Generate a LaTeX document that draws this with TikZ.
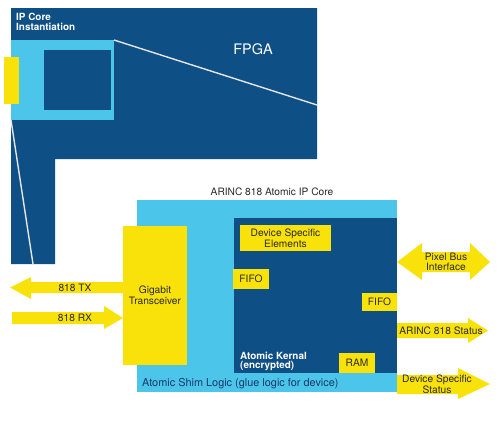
\documentclass[tikz,border=0pt]{standalone}
\usepackage{fontspec}
\setmainfont{TeX Gyre Heros}
\definecolor{fpgablue}{HTML}{0E4F86}
\definecolor{lightblue}{HTML}{4CC5EB}
\definecolor{yel}{HTML}{F9E20A}
\definecolor{txt}{HTML}{2A2A2A}
\definecolor{shimtxt}{HTML}{163A66}
\definecolor{linecol}{HTML}{E6E6E6}
\tikzset{
  box/.style={anchor=north west, inner sep=0pt, outer sep=0pt, draw=none},
  lbl/.style={inner sep=0pt, align=center, text=txt, font=\fontsize{10.2}{9.6}\selectfont},
  wlbl/.style={inner sep=0pt, align=left, text=white, font=\fontsize{9.9}{9.6}\selectfont\bfseries},
  blockarrow/.style={fill=yel, draw=none},
  zoomline/.style={draw=linecol, line width=1.4pt}
}
\begin{document}
\begin{tikzpicture}[x=1pt,y=-1pt]
\useasboundingbox[fill=white] (0,0) rectangle (500,429);
% FPGA L-shape
\fill[fpgablue] (11,8) -- (317,8) -- (317,159) -- (55,159) -- (55,264) -- (11,264) -- cycle;
\node[box, fill=lightblue, minimum width=103pt, minimum height=80pt] (ipinst) at (11,40) {};
\node[box, fill=fpgablue, minimum width=67pt, minimum height=60pt] (ipinner) at (44,50) {};
\node[box, fill=yel, minimum width=15pt, minimum height=47pt] (ipport) at (4,57) {};
\node[wlbl, anchor=north west] (iplabel) at (16,13) {IP Core\\Instantiation};
\node[inner sep=0pt, text=white, font=\fontsize{14.5}{14}\selectfont] (fpgalabel) at (253,49) {FPGA};
\coordinate (zr) at (317,105);
\coordinate (zb) at (33,264);
\draw[zoomline] (ipinst.north east) -- (zr);
\draw[zoomline] (ipinst.south west) -- (zb);

% ARINC core
\node[lbl, anchor=base] (corelabel) at (272,195) {ARINC 818 Atomic IP Core};
\node[box, fill=lightblue, minimum width=260pt, minimum height=192pt] (shim) at (137,200) {};
\node[box, fill=fpgablue, minimum width=163pt, minimum height=155pt] (kernel) at (234,218) {};
\node[box, fill=yel, minimum width=64pt, minimum height=139pt] (gt) at (123,226) {};
\node[lbl] at (gt.center) {Gigabit\\Transceiver};
\node[box, fill=yel, minimum width=91pt, minimum height=26pt] (dse) at (240,225) {};
\node[lbl] at (dse.center) {Device Specific\\Elements};
\node[box, fill=yel, minimum width=36pt, minimum height=20pt] (fifo1) at (233,269) {};
\node[lbl] at (fifo1.center) {FIFO};
\node[box, fill=yel, minimum width=35pt, minimum height=18pt] (fifo2) at (362,293) {};
\node[lbl] at (fifo2.center) {FIFO};
\node[box, fill=yel, minimum width=36pt, minimum height=20pt] (ram) at (339,353) {};
\node[lbl] at (ram.center) {RAM};
\node[wlbl, anchor=north west] (kerlabel) at (240,351.5) {Atomic Kernal\\(encrypted)};
\node[lbl, text=shimtxt, anchor=west, font=\fontsize{10.9}{10}\selectfont] (shimlabel) at (142,384) {Atomic Shim Logic (glue logic for device)};

% block arrows
\fill[blockarrow] (gt.west |- 0,282) -- (31,282) -- (31,277) -- (10,287.5) -- (31,299) -- (31,293) -- (gt.west |- 0,293) -- cycle;
\node[lbl] (txlabel) at (75,287.5) {818 TX};
\fill[blockarrow] (12,312) -- (104,312) -- (104,306) -- (gt.west |- 0,318) -- (104,329) -- (104,324) -- (12,324) -- cycle;
\node[lbl] (rxlabel) at (75,318) {818 RX};
\fill[blockarrow] (shim.east |- 0,262) -- (422,243) -- (422,252) -- (470,252) -- (470,243) -- (490,262) -- (470,280) -- (470,272) -- (422,272) -- (422,280) -- cycle;
\node[lbl] (pblabel) at (446,262) {Pixel Bus\\Interface};
\fill[blockarrow] (shim.east |- 0,323) -- (468,323) -- (468,318) -- (488,330.5) -- (468,343) -- (468,338) -- (shim.east |- 0,338) -- cycle;
\node[lbl] (statlabel) at (441,331) {ARINC 818 Status};
\fill[blockarrow] (shim.east |- 0,375) -- (458,375) -- (458,368) -- (490,384) -- (458,399) -- (458,394) -- (shim.east |- 0,394) -- cycle;
\node[lbl] (dslabel) at (437,384.5) {Device Specific\\Status};
\end{tikzpicture}
\end{document}
